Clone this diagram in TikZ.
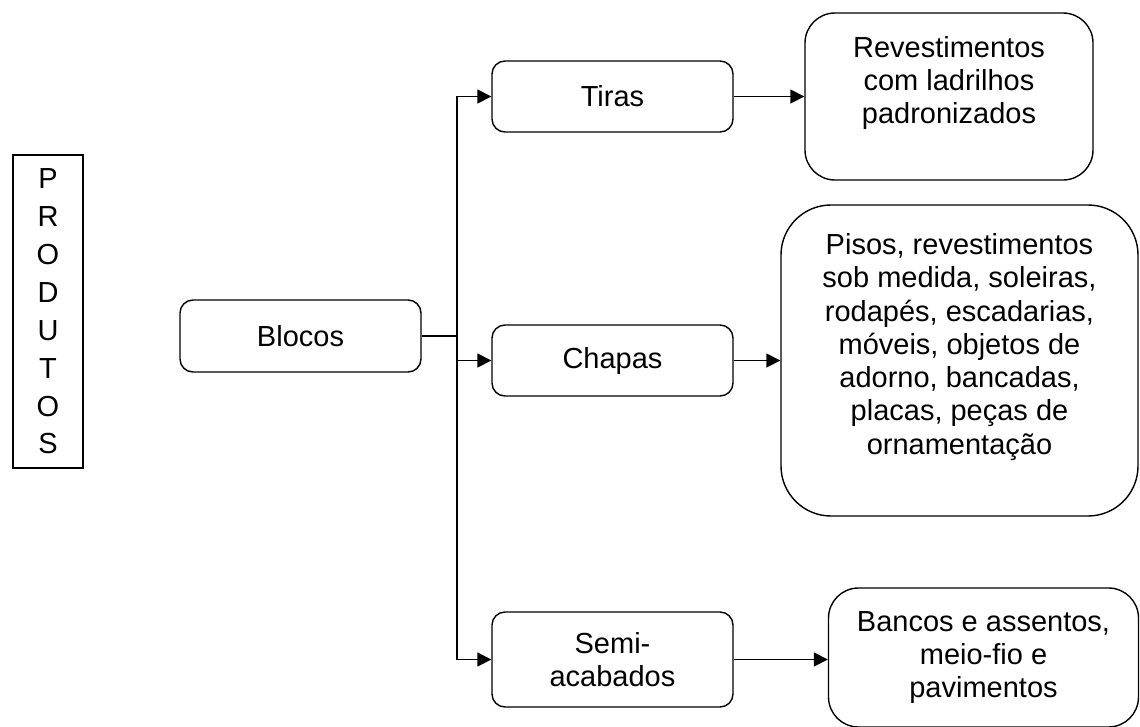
\documentclass[tikz,border=0pt]{standalone}
\usepackage{fontspec}
\setmainfont{Liberation Sans}
\usetikzlibrary{arrows.meta}

\begin{document}
\begin{tikzpicture}[x=1pt,y=-1pt,
  box/.style={draw,line width=1.4pt,rounded corners=13pt,align=center,inner sep=0pt},
  link/.style={line width=1.6pt,-{Triangle[length=14pt,width=14pt]}},
  every node/.style={font=\fontsize{29}{33.3}\selectfont}]
\useasboundingbox (0,0) rectangle (1140,726);
\node[draw,line width=1.2pt,minimum width=70pt,minimum height=313pt,align=center,inner sep=0pt,
  font=\fontsize{29}{37.9}\selectfont] (produtos) at (48,311.5) {P\\R\\O\\D\\U\\T\\O\\S};
\node[box,minimum width=241pt,minimum height=72pt] (blocos) at (300.5,336) {Blocos};
\node[box,minimum width=241pt,minimum height=71pt] (tiras) at (612.5,96.5) {Tiras};
\node[box,minimum width=241pt,minimum height=71pt] (chapas) at (612.5,360.5) {Chapas};
\node[box,minimum width=241pt,minimum height=95pt] (semi) at (612.5,659.5) {Semi-\\acabados};
\node[box,rounded corners=30pt,minimum width=288pt,minimum height=167pt] (rev) at (949,96.5)
  {Revestimentos\\com ladrilhos\\padronizados\\\mbox{}};
\node[box,rounded corners=50pt,minimum width=357pt,minimum height=311pt] (pisos) at (959.5,360.5)
  {Pisos, revestimentos\\sob medida, soleiras,\\rodap\'es, escadarias,\\m\'oveis, objetos de\\adorno, bancadas,\\placas, pe\c{c}as de\\ornamenta\c{c}\~ao\\\mbox{}};
\node[box,rounded corners=30pt,minimum width=310pt,minimum height=139pt] (bancos) at (983.5,657.5)
  {Bancos e assentos,\\meio-fio e\\pavimentos};

\coordinate (split) at (457,336);
\draw[line width=1.6pt] (blocos.east) -- (split);
\draw[link] (split) |- (tiras.west);
\draw[link] (split) |- (chapas.west);
\draw[link] (split) |- (semi.west);
\draw[link] (tiras.east) -- (rev.west);
\draw[link] (chapas.east) -- (pisos.west);
\draw[link] (semi.east) -- (semi.east -| bancos.west);
\end{tikzpicture}
\end{document}
